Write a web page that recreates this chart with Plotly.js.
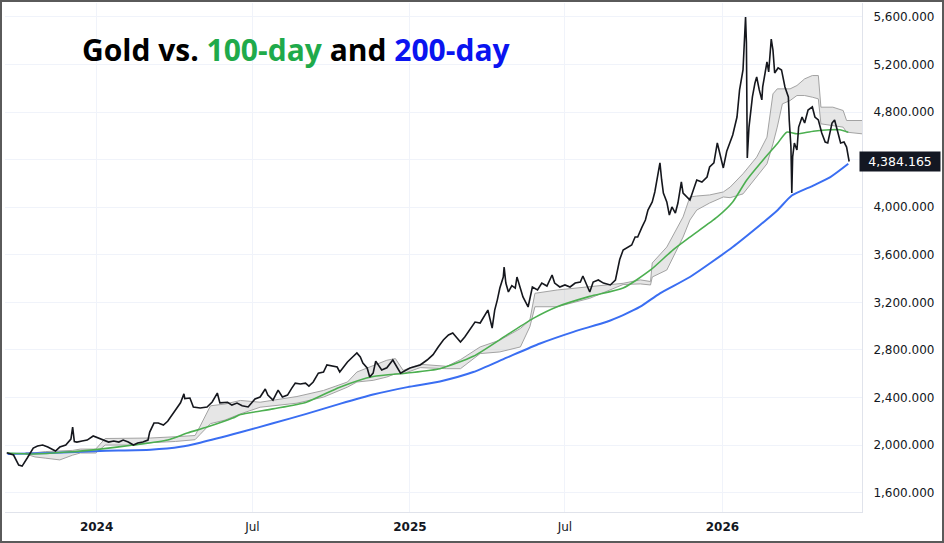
<!DOCTYPE html>
<html>
<head>
<meta charset="utf-8">
<script src="https://cdn.plot.ly/plotly-3.0.1.min.js"></script>
<style>
  html, body { margin: 0; padding: 0; background: #fff; }
  #wrap { position: relative; width: 944px; height: 543px; }
  #chart { position: absolute; left: 0; top: 0; width: 944px; height: 543px; }
  #frame { position: absolute; left: 0; top: 0; width: 944px; height: 543px; box-sizing: border-box; border: 2px solid #5a5a5a; pointer-events: none; }
</style>
</head>
<body>
<div id="wrap"><div id="chart"></div><div id="frame"></div></div>
<script>
// ---- Gold daily close ----
const priceDates = [
 '2023-09-18','2023-09-26','2023-10-02','2023-10-06','2023-10-12','2023-10-16','2023-10-19','2023-10-24','2023-10-30',
 '2023-11-05','2023-11-11','2023-11-14','2023-11-19','2023-11-26','2023-12-02','2023-12-04','2023-12-06','2023-12-09',
 '2023-12-15','2023-12-21','2023-12-28','2024-01-03','2024-01-09','2024-01-15','2024-01-21','2024-01-27','2024-02-01',
 '2024-02-07','2024-02-13','2024-02-18','2024-02-24','2024-03-01','2024-03-03','2024-03-08','2024-03-13','2024-03-19',
 '2024-03-24','2024-03-28','2024-04-02','2024-04-08','2024-04-12','2024-04-13','2024-04-19','2024-04-23','2024-05-01',
 '2024-05-09','2024-05-15','2024-05-21','2024-05-24','2024-06-02','2024-06-07','2024-06-13','2024-06-19','2024-06-26',
 '2024-07-04','2024-07-10','2024-07-16','2024-07-19','2024-07-25','2024-07-31','2024-08-05','2024-08-11','2024-08-16',
 '2024-08-20','2024-08-26','2024-09-01','2024-09-05','2024-09-10','2024-09-16','2024-09-22','2024-09-26','2024-10-02',
 '2024-10-08','2024-10-11','2024-10-15','2024-10-20','2024-10-26','2024-10-31','2024-11-04','2024-11-07','2024-11-12',
 '2024-11-15','2024-11-19','2024-11-22','2024-11-29','2024-12-05','2024-12-12','2024-12-21','2025-01-01','2025-01-13',
 '2025-01-21','2025-01-28','2025-02-03','2025-02-09','2025-02-15','2025-02-20','2025-02-25','2025-03-01','2025-03-06',
 '2025-03-12','2025-03-18','2025-03-24','2025-03-30','2025-04-02','2025-04-07','2025-04-10','2025-04-13','2025-04-16',
 '2025-04-20','2025-04-21','2025-04-23','2025-04-26','2025-04-30','2025-05-04','2025-05-06','2025-05-10','2025-05-13',
 '2025-05-19','2025-05-24','2025-05-30','2025-06-04','2025-06-10','2025-06-16','2025-06-19','2025-06-25','2025-07-01',
 '2025-07-07','2025-07-13','2025-07-19','2025-07-22','2025-07-27','2025-07-30','2025-08-03','2025-08-09','2025-08-15',
 '2025-08-23','2025-08-29','2025-08-31','2025-09-03','2025-09-07','2025-09-13','2025-09-17','2025-09-21','2025-09-24',
 '2025-09-29','2025-10-03','2025-10-06','2025-10-11','2025-10-14','2025-10-18','2025-10-20','2025-10-22','2025-10-24',
 '2025-10-28','2025-10-31','2025-11-03','2025-11-07','2025-11-10','2025-11-14','2025-11-16','2025-11-21','2025-11-24',
 '2025-11-28','2025-12-02','2025-12-08','2025-12-14','2025-12-17','2025-12-22','2025-12-26','2025-12-29','2026-01-02',
 '2026-01-06','2026-01-10','2026-01-13','2026-01-18','2026-01-21','2026-01-25','2026-01-27','2026-01-28','2026-01-29',
 '2026-01-30','2026-02-01','2026-02-05','2026-02-08','2026-02-10','2026-02-13','2026-02-16','2026-02-17','2026-02-22',
 '2026-02-24','2026-02-27','2026-03-01','2026-03-03','2026-03-07','2026-03-11','2026-03-15','2026-03-19','2026-03-20',
 '2026-03-22','2026-03-23','2026-03-24','2026-03-26','2026-03-29','2026-03-31','2026-04-04','2026-04-07','2026-04-11',
 '2026-04-16','2026-04-19','2026-04-23','2026-04-27','2026-05-01','2026-05-04','2026-05-09','2026-05-12','2026-05-16',
 '2026-05-19','2026-05-23','2026-05-26','2026-05-29'
];
const priceClose = [
 1935,1916,1832,1823,1891,1941,1975,1992,2000,
 1983,1958,1950,1983,2000,2050,2150,2030,2025,
 2034,2042,2076,2059,2042,2025,2034,2025,2042,
 2025,2000,2017,2025,2042,2109,2185,2185,2168,
 2200,2240,2300,2355,2430,2390,2395,2320,2311,
 2320,2362,2437,2355,2360,2336,2353,2330,2320,
 2387,2404,2471,2420,2378,2462,2404,2420,2479,
 2521,2513,2521,2496,2530,2605,2614,2673,2664,
 2656,2614,2656,2698,2740,2774,2740,2690,2648,
 2572,2605,2706,2631,2650,2715,2605,2648,2673,
 2715,2760,2824,2883,2925,2942,2900,2866,2908,
 2967,3034,3026,3093,3135,2984,3135,3219,3320,
 3413,3497,3362,3287,3340,3320,3413,3304,3245,
 3161,3329,3304,3362,3337,3430,3362,3329,3346,
 3329,3362,3371,3421,3329,3287,3371,3388,3362,
 3346,3388,3455,3560,3640,3665,3682,3749,3749,
 3833,3892,3976,4044,4128,4288,4372,4229,4119,
 4044,3934,4002,3951,4035,4212,4119,4086,4060,
 4145,4229,4212,4254,4338,4372,4540,4460,4330,
 4470,4548,4607,4758,4986,5154,5406,5599,5381,
 4414,4674,4927,5045,5095,4986,4902,5011,5221,
 5137,5414,5322,5129,5171,5154,5011,4927,4733,
 4506,4119,4422,4540,4481,4674,4758,4708,4817,
 4843,4758,4733,4624,4548,4540,4708,4733,4624,
 4540,4548,4506,4384.165
];
const lastPrice = 4384.165;
const lastPriceText = '4,384.165';

// ---- 100-day moving average ----
const ma100Dates = ['2023-09-19','2023-10-19','2023-11-28','2024-01-05','2024-02-13','2024-03-24','2024-04-16','2024-05-09',
 '2024-06-08','2024-06-17','2024-07-25','2024-09-02','2024-10-11','2024-11-19','2024-12-29','2025-02-05','2025-03-16',
 '2025-04-24','2025-05-25','2025-06-22','2025-07-30','2025-09-07','2025-10-09','2025-11-04','2025-11-24','2025-12-26',
 '2026-01-13','2026-01-29','2026-02-17','2026-03-06','2026-03-17','2026-03-29','2026-04-17','2026-05-07','2026-05-18','2026-05-28'];
const ma100 = [1933,1925,1941,1966,2000,2042,2101,2151,
 2227,2256,2304,2360,2487,2577,2606,2642,2746,
 2924,3065,3163,3250,3320,3472,3640,3749,3918,
 4044,4225,4393,4533,4631,4617,4639,4651,4651,4631];

// ---- 200-day moving average ----
const ma200Dates = ['2023-09-19','2023-11-08','2024-01-05','2024-03-04','2024-04-08','2024-05-01','2024-06-17','2024-07-25',
 '2024-09-02','2024-10-11','2024-11-19','2024-12-29','2025-02-05','2025-03-16','2025-04-24','2025-06-02','2025-07-11',
 '2025-08-19','2025-09-07','2025-09-27','2025-10-20','2025-11-24','2026-01-13','2026-02-14','2026-03-06','2026-03-23',
 '2026-04-17','2026-05-07','2026-05-28'];
const ma200 = [1925,1933,1950,1960,1985,2020,2107,2183,
 2262,2346,2425,2487,2535,2614,2735,2854,2952,
 3037,3093,3163,3276,3413,3665,3850,3972,4098,
 4182,4253,4365];

// ---- Ichimoku cloud (upper / lower edges) ----
const cloudDates = ['2023-10-10','2023-10-21','2023-11-02','2023-11-19','2023-12-04','2023-12-13','2023-12-31','2024-01-11',
 '2024-02-09','2024-03-04','2024-04-02','2024-04-25','2024-05-01','2024-05-13','2024-05-30','2024-06-17','2024-07-10',
 '2024-08-22','2024-09-22','2024-10-20','2024-10-31','2024-11-19','2024-12-05','2024-12-15','2024-12-24','2025-01-13',
 '2025-02-13','2025-03-01','2025-03-24','2025-04-16','2025-05-10','2025-05-21','2025-05-27','2025-06-22','2025-07-30',
 '2025-09-07','2025-09-27','2025-10-09','2025-10-11','2025-10-28','2025-11-16','2025-11-24','2025-12-02','2025-12-17',
 '2026-01-02','2026-01-10','2026-01-25','2026-02-10','2026-02-22','2026-03-01','2026-03-06','2026-03-12','2026-03-21',
 '2026-03-29','2026-04-07','2026-04-16','2026-04-23','2026-04-26','2026-05-10','2026-05-22','2026-05-26','2026-06-13','2026-06-25'];
const cloudTop = [1935,1935,1945,1950,1955,1966,1966,2055,
 2059,2059,2070,2080,2160,2330,2345,2375,2360,
 2408,2459,2530,2614,2670,2713,2727,2628,2679,
 2662,2718,2825,2882,2980,3051,3276,3304,3332,
 3360,3389,3375,3531,3665,3918,4086,4094,4103,
 4128,4169,4281,4421,4589,4953,4995,4995,4995,
 5023,5079,5107,5107,4841,4841,4813,4729,4729,4729];
const cloudBottom = [1925,1900,1890,1875,1915,1933,1933,2000,
 2000,2020,2030,2045,2090,2180,2210,2262,2318,
 2352,2403,2487,2530,2544,2572,2600,2600,2651,
 2642,2642,2769,2783,2825,2994,3163,3163,3234,
 3350,3355,3346,3413,3472,3749,3892,3976,4035,
 4086,4080,4112,4253,4365,4533,4673,4869,4897,
 4939,4939,4925,4911,4701,4687,4673,4631,4617,4617];

// ---- axes ----
const xRange = ['2023-09-16', '2026-06-13'];
const yRange = [1437, 5717];
const xTickVals = ['2024-01-01','2024-07-01','2025-01-01','2025-07-01','2026-01-01'];
const xTickText = ['<b>2024</b>','Jul','<b>2025</b>','Jul','<b>2026</b>'];
const yTickVals = [1600, 2000, 2400, 2800, 3200, 3600, 4000, 4400, 4800, 5200, 5600];
// 4,400 sits under the last-price label, so its text is left empty
const yTickText = ['1,600.000','2,000.000','2,400.000','2,800.000','3,200.000','3,600.000','4,000.000','','4,800.000','5,200.000','5,600.000'];

const axisFont = {family: 'DejaVu Sans, sans-serif', size: 12, color: '#131722'};

const traces = [
  {x: cloudDates, y: cloudBottom, type: 'scatter', mode: 'lines',
   line: {color: '#a3a3a3', width: 1}, hoverinfo: 'skip', showlegend: false},
  {x: cloudDates, y: cloudTop, type: 'scatter', mode: 'lines', fill: 'tonexty',
   fillcolor: 'rgba(195,195,195,0.42)', line: {color: '#a3a3a3', width: 1}, hoverinfo: 'skip', showlegend: false},
  {x: ma200Dates, y: ma200, type: 'scatter', mode: 'lines', line: {color: '#3a6ef2', width: 2, shape: 'spline', smoothing: 0.6}, showlegend: false},
  {x: ma100Dates, y: ma100, type: 'scatter', mode: 'lines', line: {color: '#4caf50', width: 1.6, shape: 'spline', smoothing: 0.6}, showlegend: false},
  {x: priceDates, y: priceClose, type: 'scatter', mode: 'lines', line: {color: '#15171d', width: 1.6}, showlegend: false}
];

const layout = {
  width: 944, height: 543,
  margin: {l: 5, r: 82, t: 3, b: 31},
  paper_bgcolor: '#ffffff', plot_bgcolor: '#ffffff',
  showlegend: false,
  xaxis: {
    type: 'date', range: xRange, tickmode: 'array', tickvals: xTickVals, ticktext: xTickText,
    showgrid: true, gridcolor: '#f0f3fa', gridwidth: 1, zeroline: false,
    showline: true, linecolor: '#e0e3eb', linewidth: 1, ticks: '', tickfont: axisFont,
    ticklabelstandoff: 4, fixedrange: true
  },
  yaxis: {
    side: 'right', range: yRange, tickmode: 'array', tickvals: yTickVals, ticktext: yTickText,
    showgrid: true, gridcolor: '#f0f3fa', gridwidth: 1, zeroline: false,
    showline: true, linecolor: '#e0e3eb', linewidth: 1, ticks: '', tickfont: axisFont,
    ticklabelstandoff: 8, fixedrange: true
  },
  annotations: [
    {xref: 'paper', yref: 'paper', x: 0.0875, y: 0.908, xanchor: 'left', yanchor: 'middle', showarrow: false,
     text: 'Gold vs. <span style="color:#1faa4b">100-day</span> and <span style="color:#0a14f0">200-day</span>',
     font: {family: 'Open Sans, sans-serif', size: 30, color: '#000000', weight: 700}},
    {xref: 'paper', yref: 'y', x: 1, y: lastPrice, xanchor: 'left', yanchor: 'middle', showarrow: false,
     text: lastPriceText, width: 76, height: 15, align: 'center', borderpad: 2, xshift: -3,
     bgcolor: '#131722', font: {family: 'DejaVu Sans, sans-serif', size: 12.5, color: '#ffffff'}}
  ]
};

Plotly.newPlot('chart', traces, layout, {displayModeBar: false, staticPlot: true});
</script>
</body>
</html>
